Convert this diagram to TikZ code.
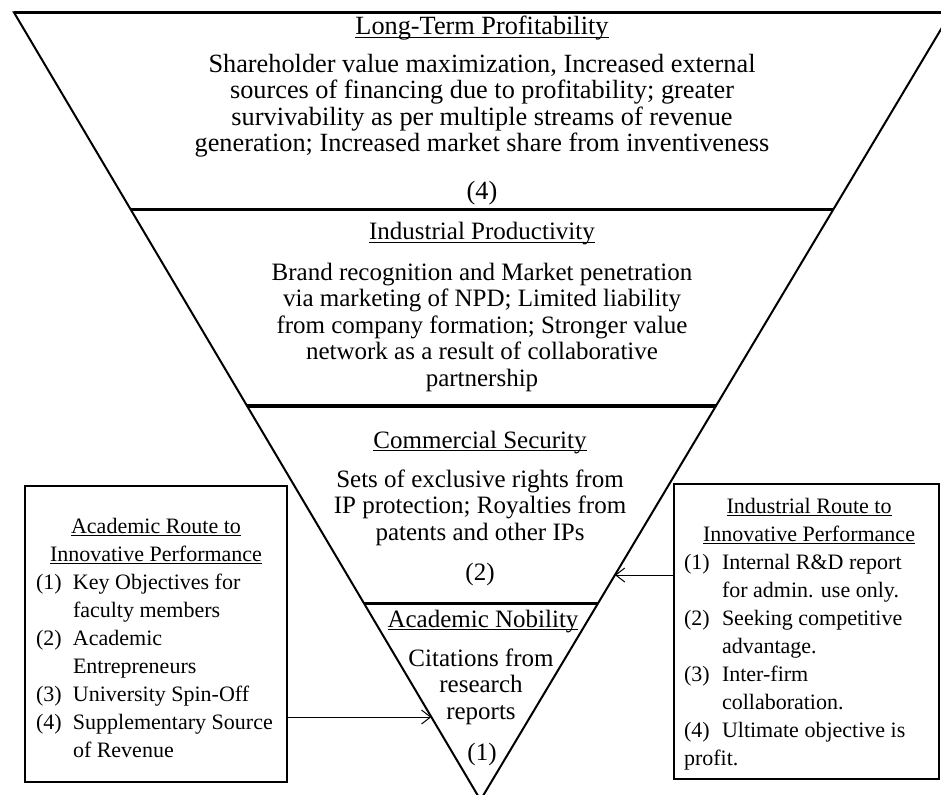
\documentclass[tikz,border=0pt]{standalone}
\usepackage{fontspec}
\setmainfont{Liberation Serif}
\usetikzlibrary{calc,arrows.meta}

% underline that cuts through descenders, close to the baseline
\newcommand\ulined[1]{\setbox0\hbox{#1}\rlap{\rule[-3pt]{\wd0}{1.2pt}}\box0}
\newcommand\lbl[2][37pt]{\makebox[#1][l]{#2}}
\newcommand\topfont{\fontsize{26.3pt}{26.5pt}\selectfont}
\newcommand\trifont{\fontsize{25pt}{26.5pt}\selectfont}
\newcommand\boxfont{\fontsize{22pt}{28pt}\selectfont}

\begin{document}
\begin{tikzpicture}[x=1pt,y=-1pt,
  every node/.style={inner sep=0pt, outer sep=0pt},
  edge/.style={line width=2pt, line join=miter},
  rim/.style={line width=2.6pt},
  tri/.style={font=\trifont, align=center, anchor=base},
  toptxt/.style={font=\topfont, align=center, anchor=base},
  panel/.style={draw, line width=2.5pt},
  boxtxt/.style={font=\boxfont},
  arr/.style={line width=1pt, -{Straight Barb[length=9pt,width=14pt]}}]
\useasboundingbox (0,0) rectangle (941,794);
\clip (0,0) rectangle (941,794);

% inverted triangle
\coordinate (TL) at (14,12.5);
\coordinate (TR) at (951,12.5);
\coordinate (A) at (480.5,800);
\draw[edge] (TL) -- (A) -- (TR) -- cycle;
\draw[rim] (TL) -- (TR);

% level separators
\draw[line width=2.6pt] ($(TL)!.25!(A)$) -- ($(TR)!.25!(A)$);
\draw[line width=3.6pt] ($(TL)!.5!(A)$) -- ($(TR)!.5!(A)$);
\draw[line width=3pt] ($(TL)!.75!(A)$) -- ($(TR)!.75!(A)$);

% level 4 (multi-line nodes are placed by the baseline of their last line)
\node[toptxt] (t4) at (482,35) {\ulined{Long-Term Profitability}};
\node[toptxt] (b4) at (482,152) {Shareholder value maximization, Increased external\\
  sources of financing due to profitability; greater\\
  survivability as per multiple streams of revenue\\
  generation; Increased market share from inventiveness};
\node[toptxt] (n4) at (482,200) {(4)};

% level 3
\node[tri] (t3) at (482,240) {\ulined{Industrial Productivity}};
\node[tri] (b3) at (482,386) {Brand recognition and Market penetration\\
  via marketing of NPD; Limited liability\\
  from company formation; Stronger value\\
  network as a result of collaborative\\
  partnership};

% level 2
\node[tri] (t2) at (480,448) {\ulined{Commercial Security}};
\node[tri] (b2) at (480,540) {Sets of exclusive rights from\\
  IP protection; Royalties from\\
  patents and other IPs};
\node[tri] (n2) at (480,580) {(2)};

% level 1
\node[tri] (t1) at (483,627) {\ulined{Academic Nobility}};
\node[tri] (b1) at (481,719) {Citations from\\research\\reports};
\node[tri] (n1) at (482,760) {(1)};

% academic route panel
\node[panel, minimum width=262pt, minimum height=296pt] (lbox) at (156,634) {};
\node[boxtxt, align=center, anchor=base] (lhead) at (156,561)
  {\ulined{Academic Route to}\\\ulined{Innovative Performance}};
\node[boxtxt, align=left, anchor=base west] (llist) at (36,757)
  {\lbl{(1)}Key Objectives for\\
   \lbl{}faculty members\\
   \lbl{(2)}Academic\\
   \lbl{}Entrepreneurs\\
   \lbl{(3)}University Spin-Off\\
   \lbl{(4)}Supplementary Source\\
   \lbl{}of Revenue};

% industrial route panel
\node[panel, minimum width=265pt, minimum height=295pt] (rbox) at (806.5,631.5) {};
\node[boxtxt, align=center, anchor=base] (rhead) at (809,541)
  {\ulined{Industrial Route to}\\\ulined{Innovative Performance}};
\node[boxtxt, align=left, anchor=base west] (rlist) at (684,765)
  {\lbl[38pt]{(1)}Internal R\&D report\\
   \lbl[38pt]{}for admin. use only.\\
   \lbl[38pt]{(2)}Seeking competitive\\
   \lbl[38pt]{}advantage.\\
   \lbl[38pt]{(3)}Inter-firm\\
   \lbl[38pt]{}collaboration.\\
   \lbl[38pt]{(4)}Ultimate objective is\\
   profit.};

% connectors into the triangle
\coordinate (lt) at ($(TL)!0.8946!(A)$);
\coordinate (rt) at ($(TR)!0.7143!(A)$);
\draw[arr] (lbox.east |- lt) -- (lt);
\draw[arr] (rbox.west |- rt) -- (rt);
\end{tikzpicture}
\end{document}
